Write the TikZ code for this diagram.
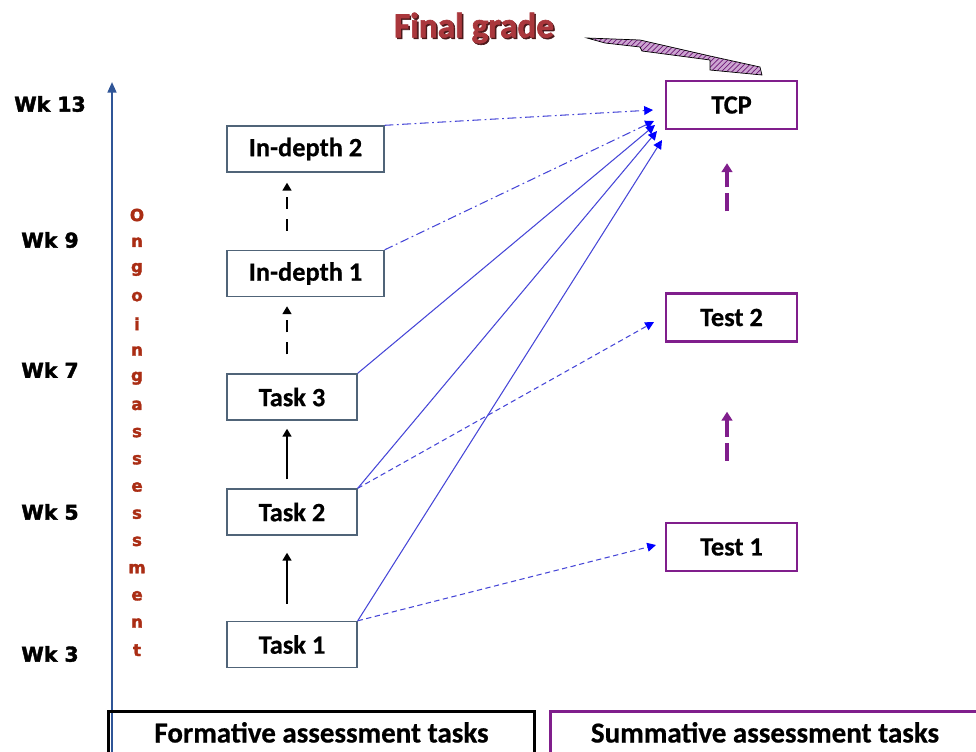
\documentclass[tikz,border=0pt]{standalone}
\usepackage{fontspec}
\setmainfont{Carlito}[BoldFeatures={FakeBold=0.6}]
\newfontfamily\wkfont{DejaVu Sans}[BoldFeatures={FakeBold=2}]
\newfontfamily\gradefont{Carlito}[BoldFeatures={FakeBold=1.8}]
\usepackage{tikz}
\usetikzlibrary{arrows, arrows.meta, positioning, patterns}
\definecolor{colorAxis}{RGB}{47,85,151}
\definecolor{colorOngoing}{RGB}{170,45,20}
\definecolor{colorGrade}{RGB}{170,55,60}
\definecolor{colorLink}{RGB}{70,70,215}
\definecolor{colorFormBox}{RGB}{80,100,120}
\definecolor{colorSum}{RGB}{128,30,140}
\tikzset{
  formbox/.style={draw=colorFormBox, line width=0.8pt, minimum width=2.6cm, minimum height=0.92cm, inner sep=0pt, font=\fontsize{15}{18}\selectfont\bfseries},
  sumbox/.style={draw=colorSum, line width=1.4pt, minimum width=2.62cm, minimum height=0.96cm, inner sep=0pt, font=\fontsize{15}{18}\selectfont\bfseries},
  bottombox/.style={line width=1.7pt, anchor=north, inner xsep=0pt, inner ysep=0.2cm, text height=0.42cm, text depth=1cm, font=\fontsize{16.5}{19}\selectfont\bfseries},
  weeklabel/.style={font=\wkfont\fontsize{11.6}{14}\selectfont\bfseries},
  ongoing/.style={colorOngoing, inner sep=0pt, font=\wkfont\fontsize{9.5}{11}\selectfont\bfseries},
  solidlink/.style={-{Triangle[length=5pt,width=5pt,color=blue]}, colorLink, line width=0.6pt},
  dashlink/.style={solidlink, dash pattern=on 3pt off 2pt},
  dotdashlink/.style={solidlink, dash pattern=on 5pt off 2pt on 1pt off 2pt},
  stepup/.style={-{Triangle[length=4.5pt,width=5pt]}, black, line width=1.7pt},
  stepdash/.style={stepup, dash pattern=on 0.24cm off 0.2cm},
  sumstep/.style={-{Triangle[length=5pt,width=6pt]}, colorSum, line width=2pt, dash pattern=on 0.36cm off 0.12cm}
}
\begin{document}
\begin{tikzpicture}[x=0.02cm, y=-0.02cm]
\useasboundingbox (0,0) rectangle (976,751);

% time axis
\draw[colorAxis, line width=1.2pt, -{Triangle[length=6pt,width=5pt]}] (112,770) -- (112,82);
\foreach \wk/\yy in {13/104, 9/240, 7/370, 5/512, 3/654}
  \node[weeklabel] (wk\wk) at (50,\yy) {Wk \wk};
\foreach \ch [count=\i from 0] in {O,n,g,o,i,n,g,a,s,s,e,s,s,m,e,n,t}
  \node[ongoing] (og\i) at (137,{215+27.2*\i}) {\ch};

% formative tasks
\node[formbox] (t1) at (292,644.5) {Task 1};
\node[formbox] (t2) at (292,512) {Task 2};
\node[formbox] (t3) at (292,397) {Task 3};
\node[formbox, minimum width=3.14cm] (d1) at (305.5,273.5) {In-depth 1};
\node[formbox, minimum width=3.14cm] (d2) at (305.5,149) {In-depth 2};

% summative tasks
\node[sumbox] (tcp) at (731.5,105) {TCP};
\node[sumbox] (test2) at (731.5,317.5) {Test 2};
\node[sumbox] (test1) at (731.5,547) {Test 1};

\node[font=\gradefont\fontsize{20}{24}\selectfont\bfseries, colorGrade!45!black] (gradeshadow) at (475.5,29.5) {Final grade};
\node[font=\gradefont\fontsize{20}{24}\selectfont\bfseries, colorGrade] (grade) at (474,28) {Final grade};
\filldraw[preaction={fill=colorSum!40}, pattern=north east lines, pattern color=colorSum!85!black, draw=black, line width=0.4pt]
  (587,38) -- (640,40) -- (710,56) -- (760,67) -- (762,75) -- (710,70) -- (710,60)
  -- (642,51) -- (640,47) -- (605,43) -- cycle;

% progression
\draw[stepup, shorten <=0.34cm, shorten >=0.34cm] ([xshift=-0.1cm]t1.north) -- ([xshift=-0.1cm]t2.south);
\draw[stepup, shorten <=0.18cm, shorten >=0.16cm] ([xshift=-0.1cm]t2.north) -- ([xshift=-0.1cm]t3.south);
\draw[stepdash, shorten <=0.38cm, shorten >=0.18cm] ([xshift=-0.1cm]t3.north) -- ([xshift=-0.1cm]t3.north |- d1.south);
\draw[stepdash, shorten <=0.38cm, shorten >=0.2cm] ([xshift=-0.1cm]t3.north |- d1.north) -- ([xshift=-0.1cm]t3.north |- d2.south);
\draw[sumstep, shorten <=1.22cm, shorten >=1.38cm] ([xshift=-0.09cm]test1.north) -- ([xshift=-0.09cm]test2.south);
\draw[sumstep, shorten <=1.62cm, shorten >=0.66cm] ([xshift=-0.09cm]test2.north) -- ([xshift=-0.09cm]tcp.south);

% links to summative tasks
\coordinate (tipA) at (653,110);
\coordinate (tipB) at (654,121);
\coordinate (tipC) at (655,125);
\coordinate (tipD) at (657,131);
\coordinate (tipE) at (662,140);
\coordinate (tipF) at (654,322);
\coordinate (tipG) at (656,545);
\draw[dotdashlink] (d2.north east) -- (tipA);
\draw[dotdashlink] (d1.north east) -- (tipB);
\draw[solidlink] (t3.north east) -- (tipC);
\draw[solidlink] (t2.north east) -- (tipD);
\draw[solidlink] (t1.north east) -- (tipE);
\draw[dashlink] (t2.north east) -- (tipF);
\draw[dashlink] (t1.north east) -- (tipG);

% bottom captions
\node[bottombox, draw=black, minimum width=8.54cm] (formative) at (321.5,710) {Formative assessment tasks};
\node[bottombox, draw=colorSum, minimum width=8.6cm] (summative) at (765,710) {Summative assessment tasks};
\end{tikzpicture}
\end{document}
